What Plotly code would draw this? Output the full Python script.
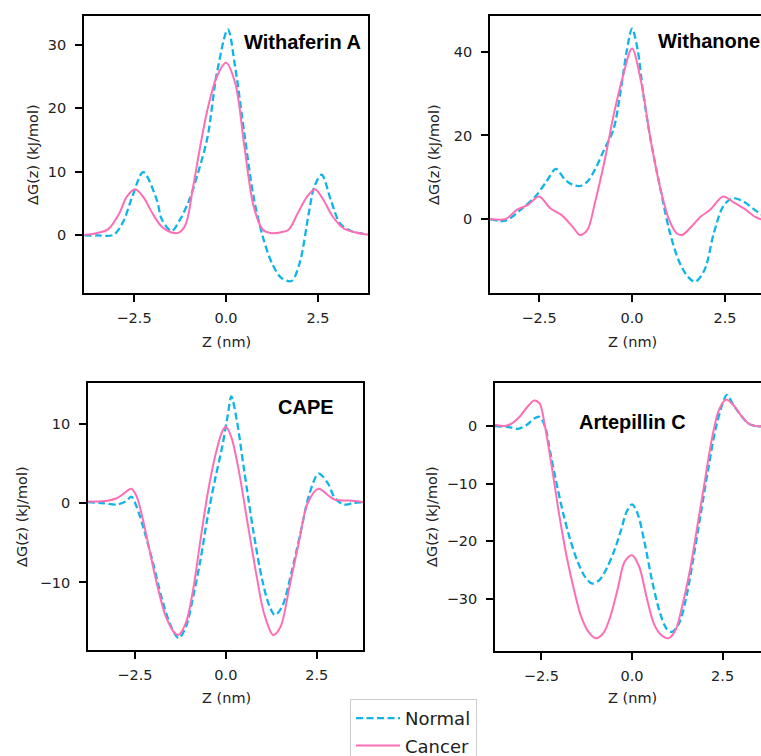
import plotly.graph_objects as go

W, H = 761, 756

# ---------------- data ----------------
# Withaferin A
wa_norm_z = [-3.85, -3.5, -3.06, -2.8, -2.55, -2.25, -1.88, -1.75, -1.48, -1.25, -1.0, -0.75, -0.5, -0.25, 0.05,
             0.25, 0.5, 0.75, 1.0, 1.25, 1.5, 1.78, 2.0, 2.25, 2.4, 2.6, 2.85, 3.1, 3.4, 3.85]
wa_norm_g = [-0.1, -0.1, 0.0, 2.0, 6.0, 9.9, 5.5, 2.5, 0.6, 2.4, 5.5, 10.0, 15.5, 25.5, 32.5,
             26.5, 16.0, 6.0, -0.3, -4.5, -6.8, -7.3, -4.5, 3.4, 7.6, 9.5, 5.5, 1.8, 0.6, 0.1]
wa_canc_z = [-3.85, -3.5, -3.2, -2.9, -2.7, -2.47, -2.25, -2.0, -1.75, -1.5, -1.3, -1.1, -0.9, -0.7, -0.5, -0.25,
             0.0, 0.25, 0.5, 0.75, 1.0, 1.2, 1.5, 1.7, 1.95, 2.2, 2.42, 2.65, 2.9, 3.2, 3.5, 3.85]
wa_canc_g = [0.0, 0.3, 0.9, 3.4, 6.0, 7.2, 6.0, 3.4, 1.3, 0.4, 0.3, 1.6, 7.4, 14.0, 19.9, 25.0,
             27.2, 24.0, 14.0, 4.5, 0.8, 0.3, 0.4, 0.8, 3.4, 6.0, 7.2, 5.5, 2.9, 1.0, 0.4, 0.0]

# Withanone
wn_norm_z = [-3.82, -3.4, -3.0, -2.6, -2.3, -2.05, -1.8, -1.6, -1.4, -1.2, -1.0, -0.75, -0.5, -0.3, -0.15, 0.0,
             0.15, 0.3, 0.5, 0.75, 1.0, 1.25, 1.5, 1.7, 1.95, 2.2, 2.45, 2.7, 3.0, 3.3, 3.5, 3.82]
wn_norm_g = [0.0, -0.4, 2.2, 5.4, 9.0, 12.0, 9.4, 8.2, 7.9, 9.0, 11.8, 16.6, 21.4, 31.0, 39.8, 45.6,
             40.6, 30.2, 19.0, 7.8, -2.6, -9.8, -13.8, -15.0, -12.2, -3.4, 3.0, 5.0, 4.2, 2.2, 1.0, 0.0]
wn_canc_z = [-3.82, -3.4, -3.1, -2.8, -2.5, -2.2, -1.9, -1.6, -1.4, -1.2, -1.0, -0.75, -0.5, -0.25, 0.0,
             0.25, 0.5, 0.75, 1.0, 1.2, 1.35, 1.6, 1.85, 2.1, 2.45, 2.7, 3.0, 3.3, 3.45, 3.82]
wn_canc_g = [0.0, 0.0, 2.2, 3.4, 5.4, 2.6, 1.0, -1.8, -3.8, -2.6, 3.8, 13.4, 24.6, 34.0, 40.8,
             32.6, 19.0, 7.8, -0.2, -3.4, -3.8, -1.8, 0.6, 2.2, 5.4, 4.2, 2.6, 0.6, 0.0, 0.0]

# CAPE
ca_norm_z = [-3.8, -3.4, -3.0, -2.75, -2.6, -2.45, -2.25, -2.0, -1.75, -1.5, -1.3, -1.1, -0.9, -0.7, -0.5, -0.3,
             -0.1, 0.05, 0.15, 0.3, 0.5, 0.75, 1.0, 1.2, 1.35, 1.55, 1.8, 2.05, 2.3, 2.55, 2.8, 3.0, 3.25, 3.5, 3.78]
ca_norm_g = [0.1, 0.0, -0.2, 0.2, 0.8, -0.5, -3.4, -7.6, -12.2, -15.6, -17.0, -15.6, -11.8, -7.2, -1.7, 2.9,
             7.1, 11.0, 13.4, 10.4, 4.2, -3.4, -9.7, -13.0, -14.1, -13.0, -8.8, -3.8, 1.2, 3.7, 2.5, 0.6, -0.2, 0.0, 0.1]
ca_canc_z = [-3.8, -3.3, -3.0, -2.8, -2.6, -2.45, -2.3, -2.1, -1.9, -1.65, -1.4, -1.3, -1.1, -0.9, -0.7, -0.5,
             -0.3, -0.1, 0.0, 0.15, 0.35, 0.6, 0.85, 1.05, 1.3, 1.5, 1.75, 2.0, 2.25, 2.55, 2.8, 3.0, 3.4, 3.78]
ca_canc_g = [0.2, 0.25, 0.6, 1.2, 1.8, 0.8, -1.7, -5.9, -10.1, -14.3, -16.4, -16.6, -15.1, -10.9, -4.7, 1.2,
             5.8, 9.0, 9.6, 8.3, 4.2, -2.6, -9.3, -13.9, -16.6, -15.6, -10.5, -5.1, 0.0, 1.8, 1.0, 0.4, 0.3, 0.1]

# Artepillin C
ar_norm_z = [-3.78, -3.4, -3.15, -2.9, -2.7, -2.55, -2.4, -2.25, -2.1, -1.9, -1.7, -1.5, -1.3, -1.1, -0.9, -0.7,
             -0.5, -0.3, -0.15, 0.0, 0.15, 0.35, 0.55, 0.75, 0.95, 1.1, 1.3, 1.5, 1.7, 1.9, 2.1, 2.3, 2.5, 2.62,
             2.8, 3.0, 3.2, 3.4, 3.78]
ar_norm_g = [0.0, -0.2, -0.5, 0.2, 1.3, 1.6, -0.1, -4.7, -9.4, -15.1, -19.8, -23.5, -26.1, -27.3, -26.7, -24.7,
             -21.8, -18.0, -14.9, -13.6, -15.1, -20.3, -26.7, -31.9, -35.1, -35.7, -34.2, -29.6, -22.7, -15.1, -7.6,
             -0.7, 3.9, 5.4, 3.6, 1.9, 0.5, 0.0, 0.0]
ar_canc_z = [-3.78, -3.5, -3.3, -3.1, -2.9, -2.7, -2.55, -2.4, -2.2, -2.0, -1.8, -1.6, -1.4, -1.2, -1.0, -0.8,
             -0.6, -0.4, -0.2, 0.0, 0.2, 0.4, 0.6, 0.8, 1.0, 1.2, 1.4, 1.6, 1.8, 2.0, 2.2, 2.4, 2.6, 2.8, 3.0,
             3.2, 3.4, 3.78]
ar_canc_g = [0.2, 0.0, 0.5, 1.6, 3.2, 4.4, 3.9, -0.1, -7.6, -15.7, -22.7, -28.4, -33.1, -35.7, -36.8, -36.0,
             -33.1, -28.4, -23.5, -22.4, -24.4, -29.6, -34.2, -36.2, -36.8, -35.4, -30.8, -25.0, -17.5, -9.9, -2.4,
             2.8, 4.6, 3.6, 1.9, 0.5, 0.0, 0.0]

panel_names = ["Withaferin A", "Withanone", "CAPE", "Artepillin C"]
x_tick_vals = [-2.5, 0.0, 2.5]
x_tick_text = ["\u22122.5", "0.0", "2.5"]
series = [
    (wa_norm_z, wa_norm_g, wa_canc_z, wa_canc_g),
    (wn_norm_z, wn_norm_g, wn_canc_z, wn_canc_g),
    (ca_norm_z, ca_norm_g, ca_canc_z, ca_canc_g),
    (ar_norm_z, ar_norm_g, ar_canc_z, ar_canc_g),
]
y_ticks = [[0, 10, 20, 30], [0, 20, 40], [-10, 0, 10], [-30, -20, -10, 0]]

# ---------------- layout helpers (pixel boxes) ----------------
def px_x(p):
    return p / W

def px_y(p):
    return 1 - p / H

# plot boxes: left, right, top, bottom in px
boxes = [(84, 368, 16, 293), (490, 761, 16, 293), (88, 363, 383, 650), (495, 761, 383, 651)]
x_ranges = [[-3.86, 3.86], [-3.82, 3.47], [-3.79, 3.77], [-3.78, 3.56]]
y_ranges = [[-9.2, 34.6], [-17.7, 48.6], [-18.5, 15.1], [-39.0, 7.45]]

BLUE = "#0fb5e6"
PINK = "#ff6eb4"
FONT = "DejaVu Sans"
TXT = "#222"
FS = 14.5

fig = go.Figure()
for i, (nz, ng, cz, cg) in enumerate(series):
    xa = "x" if i == 0 else f"x{i+1}"
    ya = "y" if i == 0 else f"y{i+1}"
    fig.add_trace(go.Scatter(x=nz, y=ng, mode="lines", name="Normal", legendgroup="normal",
                             showlegend=(i == 0), xaxis=xa, yaxis=ya,
                             line=dict(color=BLUE, width=2.3, dash="7px,3.5px", shape="spline", smoothing=0.9)))
    fig.add_trace(go.Scatter(x=cz, y=cg, mode="lines", name="Cancer", legendgroup="cancer",
                             showlegend=(i == 0), xaxis=xa, yaxis=ya,
                             line=dict(color=PINK, width=2.0, shape="spline", smoothing=0.9)))

layout = dict(width=W, height=H, margin=dict(l=0, r=0, t=0, b=0, autoexpand=False),
              paper_bgcolor="white", plot_bgcolor="white",
              font=dict(family=FONT, size=FS, color=TXT),
              showlegend=True,
              legend=dict(x=px_x(350), y=px_y(699), xanchor="left", yanchor="top",
                          bordercolor="#cccccc", borderwidth=1, bgcolor="white",
                          font=dict(family=FONT, size=18, color=TXT),
                          itemwidth=44, tracegroupgap=1, traceorder="grouped"))

for i in range(4):
    l, r, t, b = boxes[i]
    right_col = i in (1, 3)
    xkey = "xaxis" if i == 0 else f"xaxis{i+1}"
    ykey = "yaxis" if i == 0 else f"yaxis{i+1}"
    anchor_y = "y" if i == 0 else f"y{i+1}"
    anchor_x = "x" if i == 0 else f"x{i+1}"
    layout[xkey] = dict(domain=[px_x(l), min(1.0, px_x(r))], range=x_ranges[i], anchor=anchor_y,
                        showline=True, linecolor="black", linewidth=1.7, mirror=True,
                        ticks="outside", ticklen=7, tickwidth=1.5, tickcolor="black",
                        ticklabelstandoff=4,
                        tickvals=x_tick_vals, ticktext=x_tick_text, showgrid=False, zeroline=False,
                        tickfont=dict(family=FONT, size=FS, color=TXT))
    layout[ykey] = dict(domain=[px_y(b), px_y(t)], range=y_ranges[i], anchor=anchor_x,
                        showline=True, linecolor="black", linewidth=1.7, mirror=(not right_col),
                        ticks="outside", ticklen=7, tickwidth=1.5, tickcolor="black",
                        ticklabelstandoff=6,
                        tickvals=y_ticks[i], showgrid=False, zeroline=False,
                        tickfont=dict(family=FONT, size=FS, color=TXT))

fig.update_layout(**layout)

# axis titles as annotations
ytitle_pos = [(33, 155), (434, 155), (22, 517), (432, 517)]
xtitle_pos = [(226, 342), (632, 342), (226, 698), (632, 698)]
for i in range(4):
    fig.add_annotation(text="\u0394G(z) (kJ/mol)", xref="paper", yref="paper",
                       x=px_x(ytitle_pos[i][0]), y=px_y(ytitle_pos[i][1]), textangle=-90,
                       showarrow=False, xanchor="center", yanchor="middle",
                       font=dict(family=FONT, size=FS, color=TXT))
    fig.add_annotation(text="Z (nm)", xref="paper", yref="paper",
                       x=px_x(xtitle_pos[i][0]), y=px_y(xtitle_pos[i][1]),
                       showarrow=False, xanchor="center", yanchor="middle",
                       font=dict(family=FONT, size=FS, color=TXT))

# panel labels
label_pos = [(302, 42, "center"), (656, 41, "left"), (306, 407, "center"), (632, 422, "center")]
for i in range(4):
    x, y, anc = label_pos[i]
    fig.add_annotation(text=f"<b>{panel_names[i]}</b>", xref="paper", yref="paper",
                       x=px_x(x), y=px_y(y), showarrow=False, xanchor=anc, yanchor="middle",
                       font=dict(family="Liberation Sans", size=20, color="black"))

fig.write_html("out.html", config={"displayModeBar": False},
               post_script="document.body.style.margin='0';document.body.style.overflow='hidden';")
